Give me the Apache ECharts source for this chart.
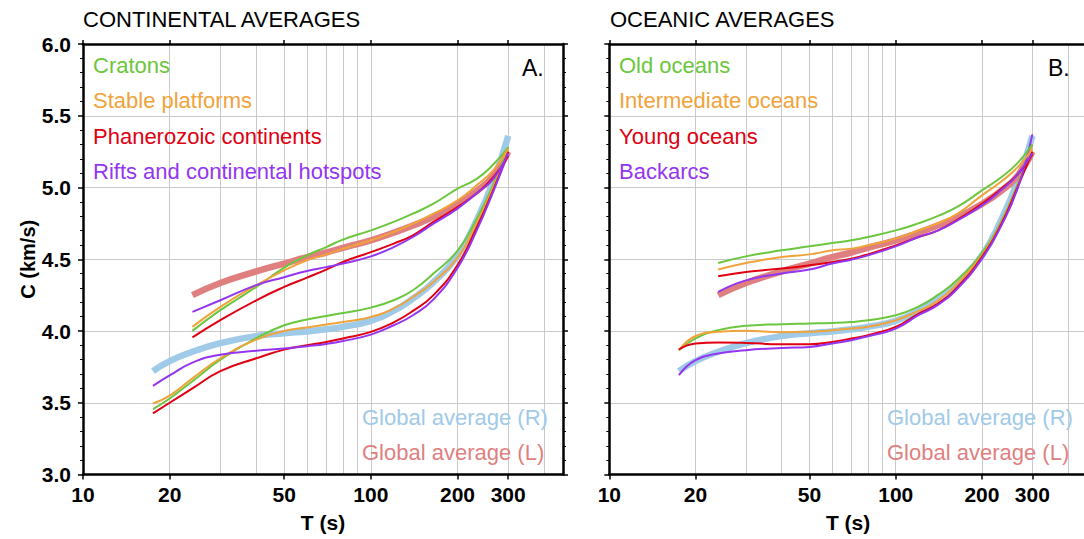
<!DOCTYPE html>
<html>
<head>
<meta charset="utf-8">
<script src="https://cdn.jsdelivr.net/npm/echarts@6/dist/echarts.min.js"></script>
<style>
html,body{margin:0;padding:0;background:#fff;}
#chart{width:1084px;height:539px;}
</style>
</head>
<body>
<div id="chart"></div>
<script>
// ---------- Data ----------
const periodsR = [17.5, 20, 24, 30, 40, 50, 60, 70, 80, 100, 120, 140, 165, 200, 233, 266, 300];
const periodsL = [24, 30, 40, 50, 60, 70, 80, 100, 120, 140, 165, 200, 233, 266, 300];

const globalR = [3.72, 3.79, 3.855, 3.915, 3.965, 3.985, 3.997, 4.012, 4.029, 4.07, 4.14, 4.225, 4.34, 4.525, 4.771, 5.04, 5.36];
const globalL = [4.25, 4.335, 4.415, 4.47, 4.515, 4.547, 4.58, 4.632, 4.685, 4.735, 4.795, 4.885, 4.975, 5.08, 5.25];

// Continental (R = lower group, L = upper group)
const cratonsR     = [3.456, 3.53, 3.65, 3.80, 3.95, 4.04, 4.08, 4.105, 4.125, 4.163, 4.214, 4.284, 4.40, 4.56, 4.78, 5.02, 5.28];
const stableR      = [3.495, 3.55, 3.67, 3.81, 3.94, 4.0, 4.025, 4.045, 4.062, 4.098, 4.157, 4.237, 4.342, 4.51, 4.75, 5.0, 5.26];
const phanerozoicR = [3.426, 3.50, 3.60, 3.72, 3.81, 3.87, 3.90, 3.924, 3.948, 3.994, 4.06, 4.14, 4.25, 4.46, 4.72, 4.98, 5.25];
const riftsR       = [3.618, 3.69, 3.78, 3.835, 3.862, 3.878, 3.894, 3.91, 3.93, 3.975, 4.04, 4.11, 4.22, 4.44, 4.70, 4.97, 5.24];

const cratonsL     = [4.001, 4.145, 4.307, 4.442, 4.527, 4.585, 4.637, 4.701, 4.76, 4.818, 4.887, 4.992, 5.06, 5.16, 5.28];
const stableL      = [4.029, 4.168, 4.319, 4.423, 4.493, 4.534, 4.574, 4.632, 4.69, 4.748, 4.818, 4.91, 5.015, 5.12, 5.27];
const phanerozoicL = [3.955, 4.075, 4.214, 4.307, 4.372, 4.428, 4.481, 4.55, 4.609, 4.667, 4.76, 4.864, 4.96, 5.07, 5.22];
const riftsL       = [4.133, 4.214, 4.32, 4.375, 4.418, 4.445, 4.47, 4.52, 4.585, 4.655, 4.748, 4.853, 4.96, 5.06, 5.24];

// Oceanic
const oldR          = [3.866, 3.948, 4.006, 4.036, 4.047, 4.052, 4.056, 4.063, 4.075, 4.11, 4.17, 4.25, 4.36, 4.545, 4.76, 5.02, 5.30];
const intermediateR = [3.866, 3.965, 3.994, 4.001, 3.992, 3.994, 4.006, 4.017, 4.029, 4.075, 4.14, 4.21, 4.335, 4.527, 4.75, 5.01, 5.30];
const youngR        = [3.871, 3.913, 3.92, 3.917, 3.908, 3.908, 3.924, 3.948, 3.971, 4.029, 4.12, 4.19, 4.31, 4.516, 4.74, 5.0, 5.25];
const backarcsR     = [3.692, 3.797, 3.843, 3.866, 3.882, 3.889, 3.913, 3.936, 3.964, 4.017, 4.11, 4.18, 4.30, 4.504, 4.73, 4.99, 5.37];

const oldL          = [4.474, 4.52, 4.562, 4.59, 4.613, 4.632, 4.655, 4.701, 4.75, 4.80, 4.868, 4.98, 5.07, 5.17, 5.30];
const intermediateL = [4.428, 4.474, 4.516, 4.534, 4.562, 4.574, 4.597, 4.644, 4.70, 4.75, 4.82, 4.945, 5.04, 5.14, 5.27];
const youngL        = [4.381, 4.411, 4.435, 4.458, 4.481, 4.504, 4.534, 4.597, 4.655, 4.70, 4.778, 4.887, 4.99, 5.09, 5.23];
const backarcsL     = [4.272, 4.353, 4.40, 4.428, 4.47, 4.497, 4.527, 4.59, 4.655, 4.70, 4.773, 4.875, 4.98, 5.09, 5.24];

// Axis ticks
const xLabelValues = [10, 20, 50, 100, 200, 300];
const xGridValues = [20, 30, 40, 50, 60, 70, 80, 90, 100, 200, 300, 400];
const xMin = 10, xMax = 465;
const yMin = 3, yMax = 6, yStep = 0.5;

const panelTitles = ['CONTINENTAL AVERAGES', 'OCEANIC AVERAGES'];
const panelLetters = ['A.', 'B.'];
const contNames = ['Cratons', 'Stable platforms', 'Phanerozoic continents', 'Rifts and continental hotspots'];
const oceNames = ['Old oceans', 'Intermediate oceans', 'Young oceans', 'Backarcs'];
const globalNames = ['Global average (R)', 'Global average (L)'];

// ---------- Styling ----------
const C_GREEN = '#6cc63e', C_ORANGE = '#f0a33a', C_RED = '#e00012', C_PURPLE = '#9436f0';
const C_BLUE = '#9fcae8', C_SALMON = '#e07f7f';
const FONT = '"Liberation Sans", Arial, Helvetica, sans-serif';

const lg = v => Math.log10(v);
const LMIN = lg(xMin), LMAX = lg(xMax);

const grids = [
  {left: 83, top: 44, width: 480, height: 430.5, outerBoundsMode: 'none', containLabel: false},
  {left: 609.3, top: 44, width: 477.6, height: 430.5, outerBoundsMode: 'none', containLabel: false}
];

const xAxes = [], yAxes = [];
[0, 1].forEach(g => {
  const base = {gridIndex: g, type: 'value', min: LMIN, max: LMAX, silent: true};
  // data axis with labels
  xAxes.push(Object.assign({}, base, {
    position: 'bottom',
    axisLine: {show: true, onZero: false, lineStyle: {color: '#000', width: 2.5}},
    axisTick: {show: true, customValues: xLabelValues.map(lg), length: 5, inside: false, lineStyle: {color: '#000', width: 1.5}},
    axisLabel: {show: true, customValues: xLabelValues.map(lg), margin: 9,
      formatter: v => String(Math.round(Math.pow(10, v))),
      color: '#000', fontFamily: FONT, fontWeight: 'bold', fontSize: 21},
    splitLine: {show: false},
    name: 'T (s)', nameLocation: 'middle', nameGap: 37,
    nameTextStyle: {color: '#000', fontFamily: FONT, fontWeight: 'bold', fontSize: 21}
  }));
  // grid-line axis
  xAxes.push(Object.assign({}, base, {
    position: 'bottom',
    axisLine: {show: false, onZero: false},
    axisTick: {show: false, customValues: xGridValues.map(lg)},
    axisLabel: {show: false},
    splitLine: {show: true, lineStyle: {color: '#c9c9c9', width: 1}}
  }));
  // top axis
  xAxes.push(Object.assign({}, base, {
    position: 'top',
    axisLine: {show: true, onZero: false, lineStyle: {color: '#000', width: 2.5}},
    axisTick: {show: true, customValues: xLabelValues.map(lg), length: 4, lineStyle: {color: '#000', width: 1.5}},
    axisLabel: {show: false},
    splitLine: {show: false}
  }));

  const ybase = {gridIndex: g, type: 'value', min: yMin, max: yMax, interval: yStep, silent: true};
  yAxes.push(Object.assign({}, ybase, {
    position: 'left',
    axisLine: {show: true, onZero: false, lineStyle: {color: '#000', width: 2.5}},
    axisTick: {show: true, length: 5, lineStyle: {color: '#000', width: 1.5}},
    minorTick: {show: true, splitNumber: 5, length: 3, lineStyle: {color: '#000', width: 1}},
    axisLabel: {show: g === 0, margin: 12, formatter: v => v.toFixed(1),
      color: '#000', fontFamily: FONT, fontWeight: 'bold', fontSize: 21},
    splitLine: {show: true, lineStyle: {color: '#c9c9c9', width: 1}},
    name: g === 0 ? 'C (km/s)' : '', nameLocation: 'middle', nameGap: 44,
    nameTextStyle: {color: '#000', fontFamily: FONT, fontWeight: 'bold', fontSize: 20}
  }));
  yAxes.push(Object.assign({}, ybase, {
    position: 'right',
    axisLine: {show: true, onZero: false, lineStyle: {color: '#000', width: 2.5}},
    axisTick: {show: true, length: 5, lineStyle: {color: '#000', width: 1.5}},
    minorTick: {show: true, splitNumber: 5, length: 3, lineStyle: {color: '#000', width: 1}},
    axisLabel: {show: false},
    splitLine: {show: false}
  }));
});

function line(name, T, C, color, width, g) {
  return {
    type: 'line', name: name,
    xAxisIndex: 3 * g, yAxisIndex: 2 * g,
    data: T.map((t, i) => [lg(t), C[i]]),
    symbol: 'none', showSymbol: false,
    smooth: 0.5,
    lineStyle: {color: color, width: width, cap: 'butt', join: 'round'},
    silent: true, animation: false
  };
}

const series = [
  line('Global average (R)', periodsR, globalR, C_BLUE, 6.5, 0),
  line('Global average (L)', periodsL, globalL, C_SALMON, 6.5, 0),
  line('Cratons R', periodsR, cratonsR, C_GREEN, 2, 0),
  line('Stable platforms R', periodsR, stableR, C_ORANGE, 2, 0),
  line('Phanerozoic continents R', periodsR, phanerozoicR, C_RED, 2, 0),
  line('Rifts R', periodsR, riftsR, C_PURPLE, 2, 0),
  line('Cratons L', periodsL, cratonsL, C_GREEN, 2, 0),
  line('Stable platforms L', periodsL, stableL, C_ORANGE, 2, 0),
  line('Phanerozoic continents L', periodsL, phanerozoicL, C_RED, 2, 0),
  line('Rifts L', periodsL, riftsL, C_PURPLE, 2, 0),

  line('Global average (R) O', periodsR, globalR, C_BLUE, 6.5, 1),
  line('Global average (L) O', periodsL, globalL, C_SALMON, 6.5, 1),
  line('Old oceans R', periodsR, oldR, C_GREEN, 2, 1),
  line('Intermediate oceans R', periodsR, intermediateR, C_ORANGE, 2, 1),
  line('Young oceans R', periodsR, youngR, C_RED, 2, 1),
  line('Backarcs R', periodsR, backarcsR, C_PURPLE, 2, 1),
  line('Old oceans L', periodsL, oldL, C_GREEN, 2, 1),
  line('Intermediate oceans L', periodsL, intermediateL, C_ORANGE, 2, 1),
  line('Young oceans L', periodsL, youngL, C_RED, 2, 1),
  line('Backarcs L', periodsL, backarcsL, C_PURPLE, 2, 1)
];

function txt(text, x, y, color, size, weight) {
  return {type: 'text', x: x, y: y, silent: true, z: 100,
    style: {text: text, fill: color, fontFamily: FONT, fontSize: size, fontWeight: weight || 'normal',
      align: 'left', verticalAlign: 'middle'}};
}
const legendColors = [C_GREEN, C_ORANGE, C_RED, C_PURPLE];
const legendY = [65, 100.5, 136, 171.5];
const graphics = [];
graphics.push(txt(panelTitles[0], 83, 19.5, '#000', 22));
graphics.push(txt(panelTitles[1], 610, 19.5, '#000', 22));
contNames.forEach((n, i) => graphics.push(txt(n, 93, legendY[i], legendColors[i], 22)));
oceNames.forEach((n, i) => graphics.push(txt(n, 619, legendY[i], legendColors[i], 22)));
graphics.push(txt(globalNames[0], 362, 417, C_BLUE, 22));
graphics.push(txt(globalNames[1], 362, 452, C_SALMON, 22));
graphics.push(txt(globalNames[0], 887, 417, C_BLUE, 22));
graphics.push(txt(globalNames[1], 887, 452, C_SALMON, 22));
graphics.push(txt(panelLetters[0], 522, 68, '#000', 23));
graphics.push(txt(panelLetters[1], 1048, 68, '#000', 23));

const chart = echarts.init(document.getElementById('chart'), null, {renderer: 'svg', width: 1084, height: 539});
chart.setOption({
  animation: false,
  backgroundColor: '#fff',
  grid: grids,
  xAxis: xAxes,
  yAxis: yAxes,
  series: series,
  graphic: graphics
});
</script>
</body>
</html>
